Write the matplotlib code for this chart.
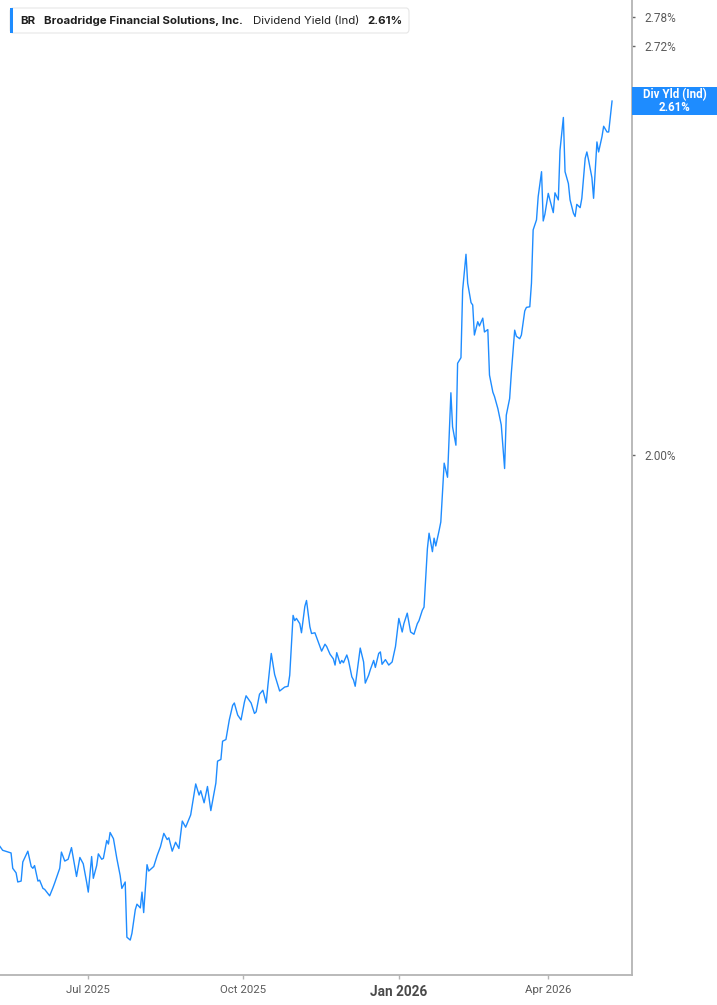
import matplotlib
matplotlib.use('Agg')
import matplotlib.pyplot as plt
import matplotlib.ticker as mticker
from matplotlib.patches import Rectangle, FancyBboxPatch
import pandas as pd

# data (dividend yield, %)
dates = [
    '2025-05-08', '2025-05-11', '2025-05-16', '2025-05-17', '2025-05-19', '2025-05-20', '2025-05-22', '2025-05-23',
    '2025-05-26', '2025-05-28', '2025-05-29', '2025-05-30', '2025-06-01', '2025-06-02', '2025-06-04', '2025-06-05',
    '2025-06-08', '2025-06-10', '2025-06-11', '2025-06-14', '2025-06-15', '2025-06-17', '2025-06-19', '2025-06-21',
    '2025-06-23', '2025-06-24', '2025-06-26', '2025-06-28', '2025-06-30', '2025-07-01', '2025-07-03', '2025-07-04',
    '2025-07-06', '2025-07-07', '2025-07-09', '2025-07-10', '2025-07-12', '2025-07-13', '2025-07-14', '2025-07-16',
    '2025-07-18', '2025-07-20', '2025-07-21', '2025-07-23', '2025-07-24', '2025-07-26', '2025-07-27', '2025-07-29',
    '2025-07-30', '2025-08-01', '2025-08-02', '2025-08-03', '2025-08-05', '2025-08-06', '2025-08-09', '2025-08-11',
    '2025-08-13', '2025-08-15', '2025-08-17', '2025-08-18', '2025-08-20', '2025-08-22', '2025-08-24', '2025-08-26',
    '2025-08-28', '2025-08-31', '2025-09-03', '2025-09-05', '2025-09-06', '2025-09-08', '2025-09-10', '2025-09-12',
    '2025-09-15', '2025-09-16', '2025-09-18', '2025-09-19', '2025-09-21', '2025-09-23', '2025-09-25', '2025-09-26',
    '2025-09-28', '2025-09-30', '2025-10-02', '2025-10-03', '2025-10-06', '2025-10-08', '2025-10-09', '2025-10-11',
    '2025-10-13', '2025-10-15', '2025-10-16', '2025-10-18', '2025-10-20', '2025-10-23', '2025-10-26', '2025-10-28',
    '2025-10-29', '2025-10-31', '2025-11-01', '2025-11-02', '2025-11-04', '2025-11-05', '2025-11-07', '2025-11-08',
    '2025-11-10', '2025-11-11', '2025-11-13', '2025-11-15', '2025-11-17', '2025-11-19', '2025-11-20', '2025-11-22',
    '2025-11-24', '2025-11-25', '2025-11-26', '2025-11-28', '2025-11-29', '2025-11-30', '2025-12-02', '2025-12-03',
    '2025-12-05', '2025-12-06', '2025-12-07', '2025-12-09', '2025-12-10', '2025-12-12', '2025-12-13', '2025-12-15',
    '2025-12-16', '2025-12-18', '2025-12-19', '2025-12-21', '2025-12-22', '2025-12-23', '2025-12-25', '2025-12-27',
    '2025-12-29', '2025-12-31', '2026-01-02', '2026-01-04', '2026-01-05', '2026-01-07', '2026-01-09', '2026-01-11',
    '2026-01-13', '2026-01-14', '2026-01-16', '2026-01-17', '2026-01-19', '2026-01-20', '2026-01-22', '2026-01-23',
    '2026-01-24', '2026-01-26', '2026-01-27', '2026-01-29', '2026-01-31', '2026-02-02', '2026-02-03', '2026-02-05',
    '2026-02-06', '2026-02-08', '2026-02-09', '2026-02-11', '2026-02-12', '2026-02-14', '2026-02-15', '2026-02-16',
    '2026-02-18', '2026-02-19', '2026-02-21', '2026-02-22', '2026-02-24', '2026-02-25', '2026-02-27', '2026-02-28',
    '2026-03-02', '2026-03-04', '2026-03-06', '2026-03-07', '2026-03-09', '2026-03-10', '2026-03-12', '2026-03-13',
    '2026-03-15', '2026-03-16', '2026-03-18', '2026-03-19', '2026-03-21', '2026-03-22', '2026-03-23', '2026-03-25',
    '2026-03-26', '2026-03-28', '2026-03-29', '2026-03-30', '2026-04-01', '2026-04-02', '2026-04-04', '2026-04-05',
    '2026-04-07', '2026-04-08', '2026-04-10', '2026-04-11', '2026-04-13', '2026-04-14', '2026-04-16', '2026-04-17',
    '2026-04-18', '2026-04-20', '2026-04-21', '2026-04-23', '2026-04-24', '2026-04-25', '2026-04-27', '2026-04-28',
    '2026-04-30', '2026-05-01', '2026-05-03', '2026-05-04', '2026-05-06', '2026-05-07', '2026-05-09',
]
yields = [
    1.494, 1.486, 1.483, 1.466, 1.461, 1.451, 1.452, 1.473,
    1.485, 1.468, 1.466, 1.469, 1.452, 1.453, 1.444, 1.443,
    1.436, 1.445, 1.450, 1.466, 1.484, 1.474, 1.476, 1.489,
    1.468, 1.457, 1.478, 1.471, 1.451, 1.440, 1.479, 1.455,
    1.469, 1.482, 1.476, 1.477, 1.497, 1.493, 1.506, 1.499,
    1.477, 1.458, 1.444, 1.451, 1.392, 1.389, 1.396, 1.421,
    1.427, 1.423, 1.440, 1.418, 1.470, 1.463, 1.468, 1.480,
    1.490, 1.505, 1.498, 1.500, 1.485, 1.495, 1.488, 1.519,
    1.512, 1.526, 1.562, 1.549, 1.554, 1.540, 1.559, 1.531,
    1.563, 1.589, 1.591, 1.613, 1.615, 1.639, 1.657, 1.660,
    1.645, 1.639, 1.661, 1.669, 1.660, 1.647, 1.649, 1.671,
    1.676, 1.660, 1.682, 1.723, 1.696, 1.675, 1.680, 1.681,
    1.695, 1.773, 1.766, 1.769, 1.762, 1.750, 1.785, 1.793,
    1.758, 1.749, 1.750, 1.738, 1.726, 1.735, 1.732, 1.722,
    1.716, 1.708, 1.724, 1.710, 1.714, 1.711, 1.721, 1.714,
    1.693, 1.689, 1.681, 1.714, 1.730, 1.712, 1.685, 1.695,
    1.702, 1.714, 1.705, 1.723, 1.725, 1.709, 1.715, 1.708,
    1.712, 1.732, 1.769, 1.751, 1.762, 1.776, 1.751, 1.748,
    1.762, 1.766, 1.780, 1.784, 1.864, 1.886, 1.860, 1.879,
    1.868, 1.890, 1.902, 1.988, 1.967, 2.096, 2.043, 2.015,
    2.143, 2.152, 2.264, 2.326, 2.276, 2.243, 2.239, 2.189,
    2.211, 2.204, 2.217, 2.194, 2.198, 2.124, 2.097, 2.090,
    2.071, 2.046, 1.980, 2.061, 2.087, 2.127, 2.197, 2.187,
    2.183, 2.189, 2.229, 2.235, 2.236, 2.276, 2.369, 2.387,
    2.429, 2.475, 2.385, 2.397, 2.435, 2.423, 2.400, 2.436,
    2.423, 2.515, 2.578, 2.475, 2.453, 2.423, 2.399, 2.393,
    2.415, 2.409, 2.426, 2.500, 2.512, 2.497, 2.464, 2.426,
    2.531, 2.512, 2.541, 2.561, 2.550, 2.550, 2.610,
]

ytick_vals = [2.00, 2.72, 2.78]
xtick_dates = ['2025-07-01', '2025-10-01', '2026-01-02', '2026-04-01']
xtick_labels = ['Jul 2025', 'Oct 2025', 'Jan 2026', 'Apr 2026']

ticker_sym = 'BR'
company = 'Broadridge Financial Solutions, Inc.'
metric = 'Dividend Yield (Ind)'
badge_name = 'Div Yld (Ind)'

blue = '#1e8cff'
grey_axis = '#b4b4b4'
grey_text = '#5a5a5a'

plt.rcParams['font.family'] = ['Roboto', 'DejaVu Sans']
legend_font = ['Inter', 'Roboto', 'DejaVu Sans']

fig = plt.figure(figsize=(7.17, 10.05), dpi=100)
ax = fig.add_axes([0, 30 / 1005, 631.7 / 717, 975 / 1005])

ax.plot(pd.to_datetime(dates), yields, color=blue, lw=1.0)

ax.set_yscale('log')
ax.set_ylim(1.353, 2.816)
ax.set_xlim(pd.Timestamp('2025-05-09 10:00'), pd.Timestamp('2026-05-20 17:00'))

# right-hand value axis
ax.yaxis.tick_right()
ax.yaxis.set_minor_locator(mticker.NullLocator())
ax.set_yticks(ytick_vals)
ax.set_yticklabels([f'{v:.2f}%' for v in ytick_vals])
ax.tick_params(axis='y', length=2, width=1, color='#666666', pad=7,
               labelsize=8.5, labelcolor=grey_text)

# date axis
ax.set_xticks(pd.to_datetime(xtick_dates))
ax.set_xticklabels(xtick_labels)
ax.tick_params(axis='x', length=3, width=1, color=grey_axis, pad=4,
               labelsize=8.2, labelcolor=grey_text)
for lbl in ax.get_xticklabels():
    if lbl.get_text().startswith('Jan'):
        lbl.set_fontweight('bold')
        lbl.set_fontsize(9.8)
        lbl.set_color('#4a4a4a')

for side in ['top', 'left']:
    ax.spines[side].set_visible(False)
for side in ['right', 'bottom']:
    ax.spines[side].set_color(grey_axis)
    ax.spines[side].set_linewidth(1.3)

# legend box, top left
fig.patches.append(FancyBboxPatch((10 / 717, 1 - 33 / 1005), 399 / 717, 25 / 1005,
                                  boxstyle='round,pad=0,rounding_size=0.004',
                                  transform=fig.transFigure, facecolor='white',
                                  edgecolor='#e6e6e6', lw=0.8, zorder=5))
fig.patches.append(Rectangle((10 / 717, 1 - 33 / 1005), 3 / 717, 25 / 1005,
                             transform=fig.transFigure, facecolor=blue,
                             edgecolor='none', zorder=6))
ty = 1 - 21 / 1005
txt = dict(fontsize=8.25, color='#1f1f1f', va='center', zorder=7, family=legend_font)
fig.text(20 / 717, ty, ticker_sym, fontweight='bold', **txt)
fig.text(44 / 717, ty, company, fontweight='bold', **txt)
fig.text(253 / 717, ty, metric, **txt)
fig.text(367 / 717, ty, f'{yields[-1]:.2f}%', fontweight='bold', **txt)

# value badge at the last point on the right axis
fig.canvas.draw()
y_px = ax.transData.transform((ax.get_xlim()[0], yields[-1]))[1]
y_fig = y_px / fig.bbox.height
bh = 28 / 1005
fig.patches.append(Rectangle((632 / 717, y_fig - bh / 2), 85 / 717, bh,
                             transform=fig.transFigure, facecolor=blue,
                             edgecolor='none', zorder=5))
fig.text(674.5 / 717, y_fig, f'{badge_name}\n{yields[-1]:.2f}%', ha='center', va='center',
         fontsize=8.3, fontweight='bold', color='white', linespacing=1.0, zorder=6)

fig.savefig('out.png', dpi=100)
